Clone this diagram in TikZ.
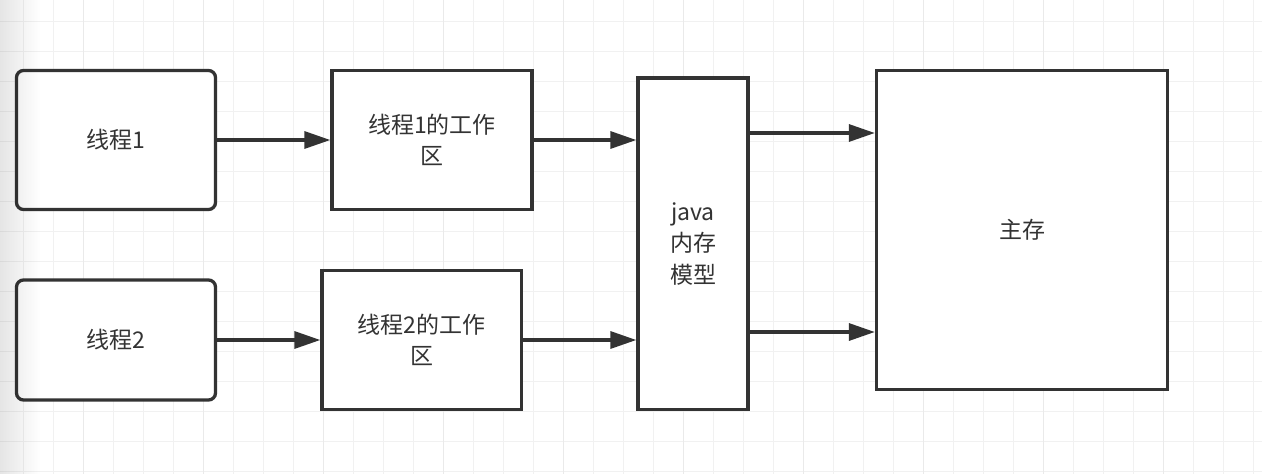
\documentclass[tikz,border=0pt]{standalone}
\usepackage{fontspec}
\setmainfont{Noto Sans CJK SC}
\usetikzlibrary{arrows.meta,fadings}
\definecolor{ink}{HTML}{333333}
\definecolor{gridminor}{HTML}{F1F1F1}
\definecolor{gridmajor}{HTML}{EAEAEA}
\tikzset{
  box/.style={draw=ink, line width=3.3pt, fill=white, text=ink, align=center,
    inner sep=0pt, font=\fontsize{23}{31.5}\selectfont},
  roundbox/.style={box, rounded corners=7pt},
  arr/.style={draw=ink, line width=3.3pt, -{Triangle[length=26pt,width=17pt]}},
}
\begin{document}
\begin{tikzpicture}[x=1pt,y=-1pt]
\useasboundingbox (0,0) rectangle (1262,474);
\fill[white] (0,0) rectangle (1262,474);
% grid
\foreach \k in {0,...,41} {
  \pgfmathsetmacro{\gx}{23.3+30*\k}
  \draw[gridminor, line width=1.4pt] (\gx,0) -- (\gx,474);
}
\foreach \k in {0,...,15} {
  \pgfmathsetmacro{\gy}{21.7+30*\k}
  \draw[gridminor, line width=1.4pt] (0,\gy) -- (1262,\gy);
}
\foreach \k in {2,6,...,38} {
  \pgfmathsetmacro{\gx}{23.3+30*\k}
  \draw[gridmajor, line width=1.4pt] (\gx,0) -- (\gx,474);
}
% nodes
\node[roundbox, minimum width=199pt, minimum height=139pt] (t1) at (116,140) {线程1};
\node[roundbox, minimum width=199pt, minimum height=120pt] (t2) at (116,340) {线程2};
\node[box, minimum width=200pt, minimum height=139pt] (w1) at (432,140) {线程1的工作\\区};
\node[box, minimum width=199.5pt, minimum height=139pt] (w2) at (421.75,340) {线程2的工作\\区};
\node[box, minimum width=110pt, minimum height=331.5pt] (jv) at (693,243.75) {java\\内存\\模型};
\node[box, minimum width=291pt, minimum height=319pt] (mm) at (1022,230) {主存};
% connectors
\draw[arr] (t1.east) -- (w1.west);
\draw[arr] (w1.east) -- (w1.east -| jv.west);
\draw[arr] (t2.east) -- (w2.west);
\draw[arr] (w2.east) -- (w2.east -| jv.west);
\coordinate (a1) at (0,133);
\coordinate (a2) at (0,332);
\draw[arr] (a1 -| jv.east) -- (a1 -| mm.west);
\draw[arr] (a2 -| jv.east) -- (a2 -| mm.west);
% left shadow
\fill[black, opacity=0.1, path fading=east] (0,0) rectangle (40,474);
\end{tikzpicture}
\end{document}
